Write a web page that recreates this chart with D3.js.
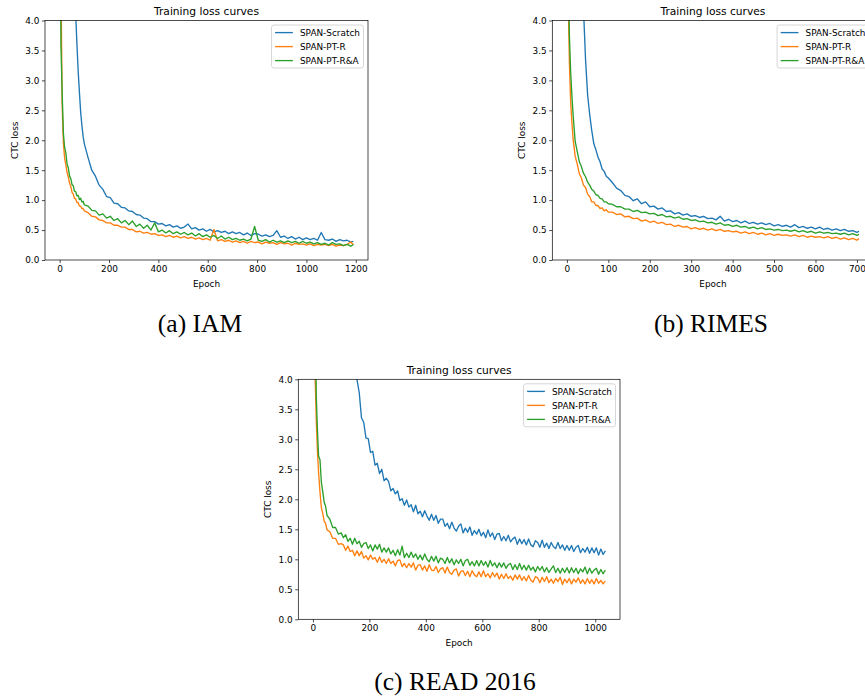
<!DOCTYPE html>
<head>
    <meta charset="utf-8">
    <title>Training loss curves</title>
    <style>
        body { margin: 0; background: #fff; }
        svg { display: block; }
        .mpl { font-family: "DejaVu Sans", sans-serif; fill: #000; }
        .cap { font-family: "Liberation Serif", serif; font-size: 25.5px; fill: #000; }
    </style>
</head>
<body>
<svg width="865" height="698"></svg>

<script src="https://cdn.jsdelivr.net/npm/d3@7"></script>

<script>

    //****************data****************************//

    var seriesNames = ["SPAN-Scratch", "SPAN-PT-R", "SPAN-PT-R&A"];
    var lossTicks = [0, 0.5, 1, 1.5, 2, 2.5, 3, 3.5, 4];

    // IAM
    var iamTicks = [0, 200, 400, 600, 800, 1000, 1200];
    var iamEpochs = [0,5,10,15,20,25,30,35,40,45,50,55,60,65,70,75,80,85,90,95,100,
        115,130,145,160,175,190,205,220,235,250,265,280,295,310,325,340,355,370,385,400,
        415,430,445,460,475,490,505,520,535,550,565,580,595,610,625,640,655,670,685,700,
        715,730,745,760,775,790,805,820,835,850,865,880,895,910,925,940,955,970,985,1000,
        1015,1030,1045,1060,1075,1090,1105,1120,1135,1150,1165,1180,1190];
    var iamScratch = [14,13,12,11,10,9.5,9,8.5,8,7.5,7,6.2,4.7,4.1,3.6,3.15,2.8,2.47,2.25,2.06,1.94,
        1.71,1.50,1.40,1.25,1.18,1.06,1.04,0.95,0.94,0.88,0.87,0.82,0.81,0.76,0.75,0.70,0.69,0.64,0.64,0.60,
        0.61,0.57,0.59,0.55,0.57,0.53,0.55,0.60,0.52,0.54,0.50,0.52,0.48,0.51,0.47,0.49,0.46,0.48,0.44,0.47,
        0.44,0.46,0.42,0.45,0.41,0.44,0.43,0.40,0.42,0.39,0.41,0.49,0.38,0.40,0.36,0.39,0.35,0.38,0.34,0.37,
        0.34,0.36,0.33,0.46,0.34,0.33,0.35,0.31,0.34,0.32,0.33,0.30,0.31];
    var iamPtR = [9,4.8,2.6,1.96,1.70,1.59,1.46,1.39,1.28,1.23,1.13,1.10,1.03,1.02,0.96,0.96,0.90,0.90,0.86,0.86,0.82,
        0.79,0.73,0.72,0.67,0.66,0.62,0.62,0.58,0.58,0.55,0.55,0.51,0.51,0.47,0.48,0.45,0.46,0.43,0.44,0.41,
        0.42,0.39,0.41,0.38,0.40,0.37,0.39,0.36,0.38,0.35,0.37,0.34,0.36,0.33,0.51,0.32,0.34,0.31,0.33,0.30,
        0.32,0.29,0.31,0.28,0.31,0.29,0.30,0.27,0.30,0.28,0.29,0.26,0.29,0.27,0.28,0.25,0.28,0.26,0.27,0.25,
        0.27,0.24,0.26,0.25,0.26,0.24,0.26,0.23,0.25,0.24,0.26,0.30,0.25];
    var iamPtRA = [9,3.6,2.8,2.12,1.88,1.79,1.60,1.54,1.40,1.36,1.26,1.24,1.15,1.14,1.07,1.08,1.01,1.03,0.97,0.98,0.92,
        0.90,0.83,0.82,0.75,0.77,0.70,0.73,0.66,0.69,0.62,0.66,0.59,0.65,0.56,0.60,0.53,0.58,0.50,0.62,0.47,
        0.50,0.45,0.49,0.44,0.47,0.43,0.46,0.42,0.45,0.40,0.44,0.39,0.42,0.38,0.41,0.36,0.40,0.35,0.38,0.34,
        0.36,0.33,0.35,0.32,0.35,0.56,0.33,0.31,0.34,0.30,0.33,0.30,0.32,0.29,0.32,0.29,0.31,0.28,0.31,0.28,
        0.30,0.27,0.29,0.26,0.28,0.25,0.29,0.26,0.27,0.24,0.26,0.23,0.26];

    // RIMES
    var rimesTicks = [0, 100, 200, 300, 400, 500, 600, 700];
    var rimesEpochs = [0,3,6,9,12,15,20,25,30,35,40,45,50,55,60,65,70,75,80,85,90,95,100,
        110,120,130,140,150,160,170,180,190,200,210,220,230,240,250,260,270,280,290,300,
        310,320,330,340,350,360,370,380,390,400,410,420,430,440,450,460,470,480,490,500,
        510,520,530,540,550,560,570,580,590,600,610,620,630,640,650,660,670,680,690,700,705];
    var rimesScratch = [15,14,13,12,11,10,9,8,7,5.0,4.2,3.35,2.76,2.43,2.16,1.94,1.84,1.72,1.64,1.52,1.48,1.40,1.37,
        1.29,1.20,1.16,1.08,1.06,0.99,1.02,0.94,0.97,0.89,0.90,0.85,0.87,0.81,0.82,0.77,0.79,0.75,0.77,0.73,
        0.74,0.71,0.73,0.69,0.70,0.67,0.73,0.65,0.68,0.64,0.66,0.62,0.65,0.61,0.63,0.60,0.62,0.59,0.61,0.57,
        0.59,0.56,0.58,0.55,0.59,0.54,0.56,0.53,0.55,0.52,0.55,0.51,0.53,0.50,0.52,0.49,0.51,0.48,0.49,0.46,0.48];
    var rimesPtR = [8,4.4,3.3,2.65,2.3,2.02,1.73,1.60,1.44,1.37,1.25,1.21,1.10,1.06,0.97,0.97,0.91,0.91,0.86,0.87,0.82,0.84,0.80,
        0.80,0.76,0.77,0.72,0.73,0.69,0.70,0.65,0.67,0.63,0.65,0.61,0.63,0.59,0.60,0.56,0.58,0.55,0.56,0.52,
        0.54,0.51,0.53,0.50,0.52,0.49,0.51,0.48,0.49,0.47,0.48,0.45,0.47,0.44,0.46,0.43,0.45,0.42,0.44,0.41,
        0.43,0.41,0.42,0.40,0.42,0.39,0.41,0.38,0.40,0.38,0.39,0.37,0.39,0.36,0.38,0.35,0.37,0.34,0.36,0.33,0.36];
    var rimesPtRA = [9,5.0,3.75,3.15,2.75,2.42,1.98,1.81,1.64,1.56,1.45,1.39,1.30,1.25,1.18,1.15,1.09,1.08,1.03,1.02,0.97,0.97,0.94,
        0.93,0.89,0.89,0.85,0.85,0.81,0.83,0.79,0.80,0.77,0.78,0.74,0.76,0.72,0.73,0.70,0.72,0.68,0.69,0.66,
        0.67,0.64,0.65,0.62,0.63,0.60,0.62,0.58,0.59,0.56,0.58,0.55,0.56,0.53,0.55,0.52,0.54,0.51,0.52,0.50,
        0.51,0.49,0.50,0.48,0.50,0.47,0.49,0.46,0.48,0.45,0.47,0.45,0.46,0.44,0.45,0.43,0.45,0.42,0.44,0.41,0.43];

    // READ 2016
    var readTicks = [0, 200, 400, 600, 800, 1000];
    var readEpochs = [0,4,8,12,16,20,25,30,35,40,45,50,60,70,80,90,100,
        108,116,124,132,140,148,156,164,172,180,188,196,204,212,220,228,236,244,252,260,
        268,276,284,292,300,308,316,324,332,340,348,356,364,372,380,388,396,404,412,420,
        428,436,444,452,460,468,476,484,492,500,508,516,524,532,540,548,556,564,572,580,
        588,596,604,612,620,628,636,644,652,660,668,676,684,692,700,708,716,724,732,740,
        748,756,764,772,780,788,796,804,812,820,828,836,844,852,860,868,876,884,892,900,
        908,916,924,932,940,948,956,964,972,980,988,996,1004,1012,1020,1028,1036];
    var readScratch = [20,19,18,17,16,15,14,13,12,11,10,9.5,9,8.5,8,7.5,7,
        6.4,6.0,5.6,5.2,4.8,4.45,4.0,3.78,3.36,3.28,3.02,3.01,2.78,2.80,2.57,2.60,2.43,2.50,2.31,2.35,
        2.30,2.14,2.18,2.09,2.14,1.98,2.01,1.90,1.99,1.87,1.91,1.79,1.90,1.76,1.80,1.71,1.81,1.72,1.65,1.75,
        1.65,1.73,1.60,1.67,1.67,1.55,1.60,1.51,1.62,1.52,1.47,1.55,1.59,1.44,1.52,1.45,1.54,1.40,1.48,1.42,
        1.50,1.39,1.45,1.36,1.49,1.38,1.44,1.33,1.42,1.43,1.31,1.38,1.31,1.40,1.29,1.34,1.37,1.25,1.34,1.26,
        1.33,1.24,1.34,1.24,1.21,1.31,1.28,1.20,1.32,1.20,1.27,1.18,1.28,1.21,1.18,1.28,1.18,1.24,1.15,1.23,
        1.15,1.23,1.13,1.20,1.23,1.11,1.18,1.12,1.20,1.10,1.19,1.11,1.19,1.07,1.17,1.08,1.14];
    var readPtR = [10,6,4.0,3.3,2.8,2.45,2.12,1.86,1.76,1.63,1.60,1.49,1.46,1.35,1.35,1.25,1.26,
        1.24,1.15,1.22,1.13,1.15,1.06,1.14,1.06,1.13,1.02,1.06,0.99,1.07,1.00,1.03,0.95,1.04,0.95,1.00,0.93,
        1.01,0.93,0.97,0.89,0.98,0.99,0.88,0.93,0.86,0.93,0.87,0.94,0.82,0.90,0.91,0.82,0.89,0.80,0.91,0.82,
        0.81,0.88,0.78,0.84,0.86,0.77,0.87,0.78,0.75,0.82,0.84,0.72,0.80,0.81,0.73,0.80,0.71,0.81,0.74,0.71,
        0.79,0.71,0.81,0.71,0.76,0.69,0.78,0.71,0.77,0.67,0.75,0.68,0.76,0.68,0.72,0.65,0.74,0.67,0.74,0.65,
        0.71,0.64,0.73,0.65,0.62,0.71,0.69,0.61,0.70,0.63,0.71,0.61,0.67,0.60,0.68,0.63,0.70,0.58,0.67,0.61,
        0.68,0.59,0.67,0.62,0.69,0.60,0.66,0.59,0.68,0.60,0.66,0.59,0.68,0.60,0.65,0.59,0.64];
    var readPtRA = [12,8,5.2,3.7,3.15,2.72,2.66,2.28,2.12,1.95,1.88,1.73,1.67,1.53,1.53,1.42,1.44,
        1.36,1.41,1.30,1.35,1.25,1.35,1.26,1.30,1.20,1.26,1.28,1.18,1.24,1.14,1.24,1.17,1.25,1.12,1.19,1.12,
        1.19,1.09,1.15,1.06,1.16,1.07,1.22,1.03,1.10,1.03,1.12,1.03,1.09,1.00,1.07,0.99,1.09,1.00,0.96,1.05,
        0.97,1.05,0.94,1.02,1.00,0.93,1.03,0.94,1.01,0.91,0.99,0.93,1.00,0.89,0.98,1.00,0.90,0.96,0.89,0.98,
        0.89,0.98,0.90,0.96,0.87,0.98,0.89,0.94,0.86,0.94,0.87,0.94,0.85,0.91,0.93,0.83,0.91,0.83,0.93,0.83,
        0.90,0.82,0.90,0.82,0.87,0.79,0.88,0.82,0.88,0.79,0.86,0.78,0.84,0.89,0.78,0.85,0.77,0.85,0.78,0.86,
        0.77,0.86,0.78,0.85,0.76,0.84,0.79,0.87,0.76,0.85,0.77,0.82,0.85,0.75,0.83,0.76,0.82];

    //****************layout****************************//

    var colors = ["#1f77b4", "#ff7f0e", "#2ca02c"];
    var fs = 8.9; // 10pt matplotlib text, scaled

    var panels = [
        { id: "a", epochs: iamEpochs, series: [iamScratch, iamPtR, iamPtRA], xTicks: iamTicks,
          left: 45, right: 368, top: 20.5, bottom: 260, caption: "(a) IAM", capX: 200, capY: 332 },
        { id: "b", epochs: rimesEpochs, series: [rimesScratch, rimesPtR, rimesPtRA], xTicks: rimesTicks,
          left: 552.3, right: 873.6, top: 20.5, bottom: 260, caption: "(b) RIMES", capX: 711, capY: 332 },
        { id: "c", epochs: readEpochs, series: [readScratch, readPtR, readPtRA], xTicks: readTicks,
          left: 298.3, right: 620, top: 379.3, bottom: 619.3, caption: "(c) READ 2016", capX: 455, capY: 690 }
    ];

    var svg = d3.select("svg");
    svg.append("rect").attr("width", 865).attr("height", 698).attr("fill", "#fff");

    panels.forEach(drawPanel);

    function drawPanel(p) {
        var ext = d3.extent(p.epochs),
            pad = (ext[1] - ext[0]) * 0.05; // matplotlib default margins

        var x = d3.scaleLinear().domain([ext[0] - pad, ext[1] + pad]).range([p.left, p.right]);
        var y = d3.scaleLinear().domain([0, 4]).range([p.bottom, p.top]);

        var g = svg.append("g").attr("class", "mpl");

        // clip lines to the axes box
        g.append("clipPath").attr("id", "clip-" + p.id)
            .append("rect")
            .attr("x", p.left).attr("y", p.top)
            .attr("width", p.right - p.left).attr("height", p.bottom - p.top);

        var line = d3.line()
            .x(function (d) { return x(d[0]); })
            .y(function (d) { return y(d[1]); });

        var lines = g.append("g").attr("clip-path", "url(#clip-" + p.id + ")");
        p.series.forEach(function (vals, i) {
            var pts = p.epochs.map(function (e, k) { return [e, vals[k]]; })
                .filter(function (d) { return d[1] !== undefined; });
            lines.append("path")
                .datum(pts)
                .attr("d", line)
                .attr("fill", "none")
                .attr("stroke", colors[i])
                .attr("stroke-width", 1.35)
                .attr("stroke-linejoin", "round");
        });

        // axes
        var xAxis = g.append("g")
            .attr("transform", "translate(0," + p.bottom + ")")
            .call(d3.axisBottom(x).tickValues(p.xTicks).tickFormat(d3.format("d")).tickSize(3.1).tickPadding(2.6));
        var yAxis = g.append("g")
            .attr("transform", "translate(" + p.left + ",0)")
            .call(d3.axisLeft(y).tickValues(lossTicks).tickFormat(d3.format(".1f")).tickSize(3.1).tickPadding(2.6));

        [xAxis, yAxis].forEach(function (ax) {
            ax.select(".domain").remove();
            ax.selectAll(".tick line").attr("stroke", "#000").attr("stroke-width", 0.7);
            ax.selectAll(".tick text")
                .attr("font-family", "DejaVu Sans, sans-serif")
                .attr("font-size", fs).attr("fill", "#000");
        });

        // frame
        g.append("rect")
            .attr("x", p.left).attr("y", p.top)
            .attr("width", p.right - p.left).attr("height", p.bottom - p.top)
            .attr("fill", "none").attr("stroke", "#000").attr("stroke-width", 0.7);

        var cx = (p.left + p.right) / 2,
            cy = (p.top + p.bottom) / 2;

        g.append("text")
            .attr("x", cx).attr("y", p.top - 5.2)
            .attr("text-anchor", "middle")
            .attr("font-size", fs * 1.2)
            .text("Training loss curves");

        g.append("text")
            .attr("x", cx).attr("y", p.bottom + 26.5)
            .attr("text-anchor", "middle")
            .attr("font-size", fs)
            .text("Epoch");

        g.append("text")
            .attr("transform", "translate(" + (p.left - 27) + "," + cy + ") rotate(-90)")
            .attr("text-anchor", "middle")
            .attr("font-size", fs)
            .text("CTC loss");

        // legend, upper right
        var leg = g.append("g");
        var box = leg.append("rect")
            .attr("fill", "#fff").attr("fill-opacity", 0.8)
            .attr("stroke", "#cccccc").attr("stroke-width", 0.8)
            .attr("rx", 2.5);

        var maxW = 0;
        seriesNames.forEach(function (name, i) {
            var ry = 7.6 + i * 14;
            var r = leg.append("g").attr("transform", "translate(0," + ry + ")");
            r.append("line")
                .attr("x1", 3.6).attr("x2", 21.4)
                .attr("stroke", colors[i]).attr("stroke-width", 1.35);
            var t = r.append("text")
                .attr("x", 28.5).attr("y", 3.2)
                .attr("font-size", fs)
                .text(name);
            maxW = Math.max(maxW, t.node().getComputedTextLength());
        });

        var bw = 28.5 + maxW + 3.6,
            bh = 43;
        box.attr("width", bw).attr("height", bh);
        leg.attr("transform", "translate(" + (p.right - 4.5 - bw) + "," + (p.top + 4.5) + ")");

        // caption under the figure
        svg.append("text")
            .attr("class", "cap")
            .attr("x", p.capX).attr("y", p.capY)
            .attr("text-anchor", "middle")
            .text(p.caption);
    }

</script>
</body>
